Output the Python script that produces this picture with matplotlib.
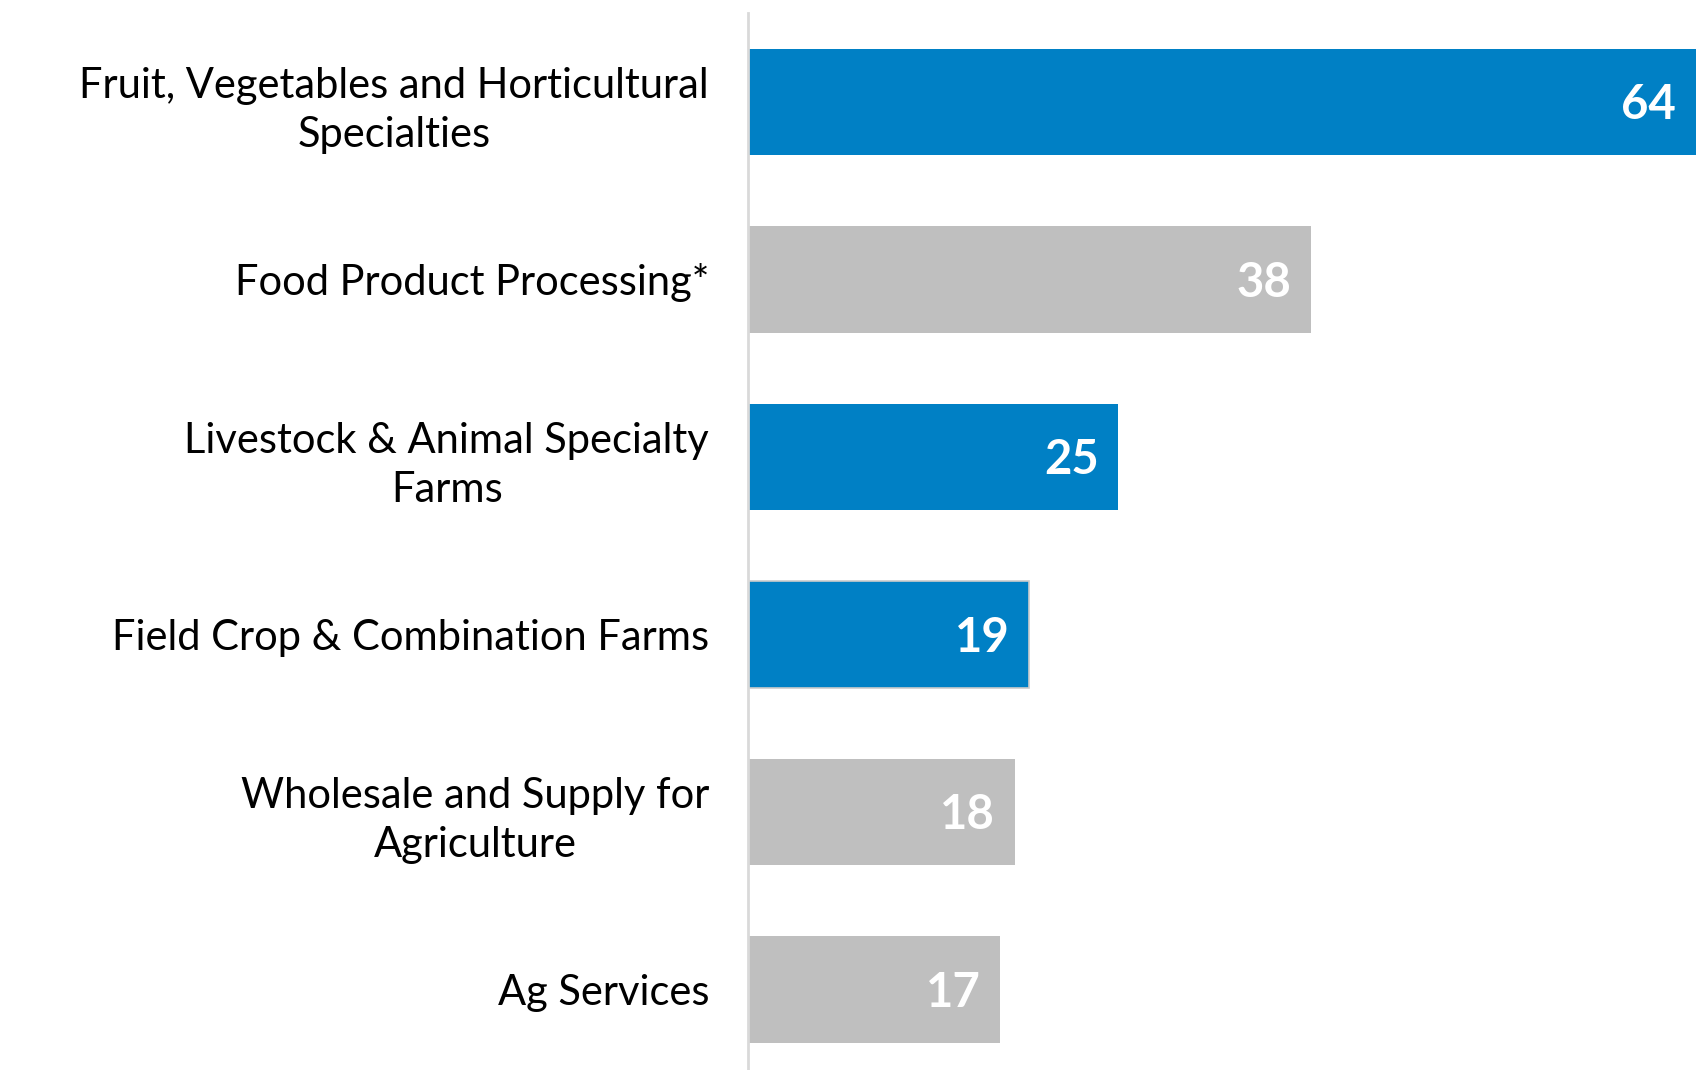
import matplotlib.pyplot as plt

# Categories and values (top to bottom)
categorias = [
    "Fruit, Vegetables and Horticultural\nSpecialties",
    "Food Product Processing*",
    "Livestock & Animal Specialty\nFarms",
    "Field Crop & Combination Farms",
    "Wholesale and Supply for\nAgriculture",
    "Ag Services",
]
valores = [64, 38, 25, 19, 18, 17]
destacado = [True, False, True, True, False, False]

azul = "#0080C5"
gris = "#BFBFBF"

plt.rcParams['font.family'] = ['Lato', 'DejaVu Sans']

fig = plt.figure(figsize=(17, 10.7), dpi=100)
ax = fig.add_axes([748 / 1700, 0, 1 - 748 / 1700, 1057 / 1070])

pos = list(range(len(valores)))
colores = [azul if d else gris for d in destacado]
barras = ax.barh(pos, valores, height=0.6, color=colores)
# the 19 bar has a thin grey outline
barras[3].set_edgecolor("#CCCCCC")
barras[3].set_linewidth(1.2)

for p, v in zip(pos, valores):
    ax.text(v - 1.3, p + 0.02, str(v), ha="right", va="center",
            color="white", fontsize=34, fontweight="bold")

ax.set_xlim(0, 64.3)
ax.set_ylim(5.454, -0.5)

ax.set_yticks(pos)
ax.set_yticklabels(categorias, fontsize=30, multialignment="center",
                   linespacing=1.35)
ax.tick_params(axis="y", length=0, pad=28)
ax.set_xticks([])

for lado in ["top", "right", "bottom"]:
    ax.spines[lado].set_visible(False)
ax.spines["left"].set_color("#D9D9D9")
ax.spines["left"].set_linewidth(2)

fig.savefig("out.png", dpi=100)
